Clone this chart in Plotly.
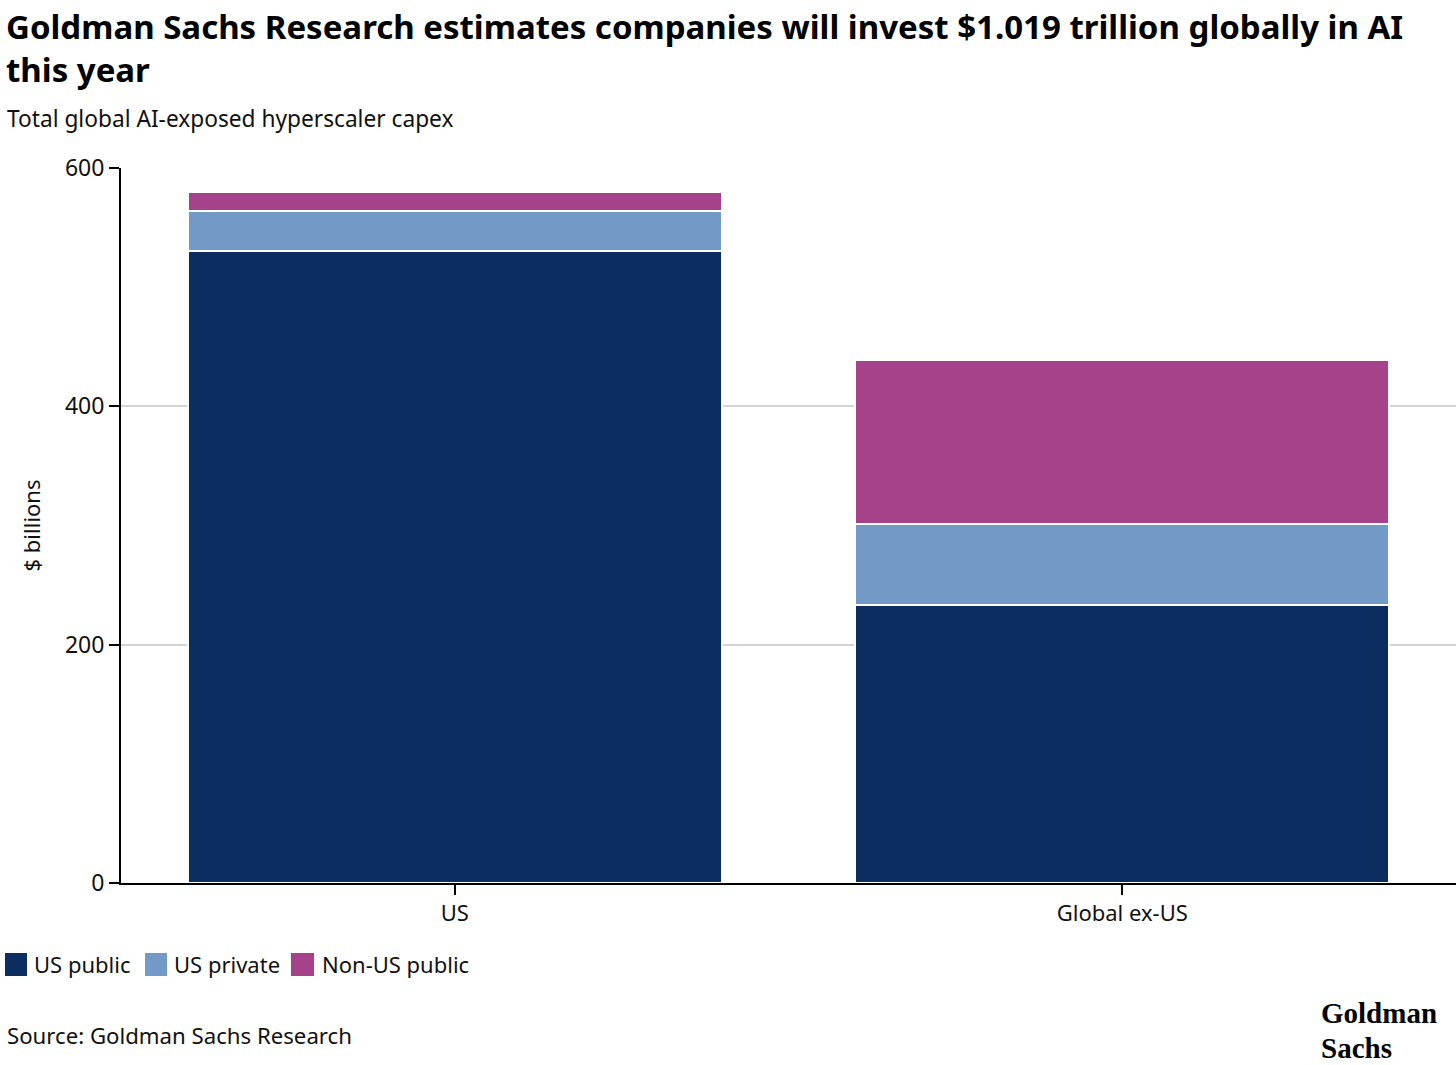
import plotly.graph_objects as go

categories = ["US", "Global ex-US"]
us_public = [530, 233]
us_private = [34, 68]
non_us_public = [16, 138]

series_names = ["US public", "US private", "Non-US public"]
colors = ["#0b2d5f", "#7399c6", "#a54289"]
y_ticks = [0, 200, 400, 600]

FONT = "Noto Sans"
TXT = "#111111"

fig = go.Figure()
for name, vals, col in zip(series_names, [us_public, us_private, non_us_public], colors):
    fig.add_trace(go.Bar(
        x=categories, y=vals, name=name, showlegend=False,
        marker=dict(color=col, line=dict(color="white", width=2)),
    ))

# custom legend (large square swatches, as in the reference)
legend_sq_x = [(-0.0869, -0.0704), (0.0180, 0.0345), (0.1273, 0.1446)]
legend_txt_x = [-0.0667, 0.0382, 0.1491]
shapes = []
annotations = []
for (x0, x1), tx, name, col in zip(legend_sq_x, legend_txt_x, series_names, colors):
    shapes.append(dict(type="rect", xref="paper", yref="paper", x0=x0, x1=x1,
                       y0=-0.1301, y1=-0.0979, fillcolor=col, line=dict(width=0)))
    annotations.append(dict(text=name, xref="paper", yref="paper", x=tx, y=-0.1133,
                            xanchor="left", yanchor="middle", showarrow=False,
                            font=dict(family=FONT, size=22, color=TXT)))

annotations += [
    dict(text="<b>Goldman Sachs Research estimates companies will invest $1.019 trillion globally in AI<br>this year</b>",
         xref="paper", yref="paper", x=-0.0875, y=1.2315, xanchor="left", yanchor="top",
         align="left", showarrow=False, font=dict(family=FONT, size=33, color="#000000")),
    dict(text="Total global AI-exposed hyperscaler capex", xref="paper", yref="paper",
         x=-0.0869, y=1.0699, xanchor="left", yanchor="middle", showarrow=False,
         font=dict(family=FONT, size=22.7, color=TXT)),
    dict(text="Source: Goldman Sachs Research", xref="paper", yref="paper",
         x=-0.0869, y=-0.2126, xanchor="left", yanchor="middle", showarrow=False,
         font=dict(family=FONT, size=22.2, color=TXT)),
    dict(text="<b>Goldman</b>", xref="paper", yref="paper",
         x=0.8974, y=-0.1818, xanchor="left", yanchor="middle", showarrow=False,
         font=dict(family="Liberation Serif", size=29, color="#000000")),
    dict(text="<b>Sachs</b>", xref="paper", yref="paper",
         x=0.8974, y=-0.2308, xanchor="left", yanchor="middle", showarrow=False,
         font=dict(family="Liberation Serif", size=29, color="#000000")),
]

fig.update_layout(
    barmode="stack",
    bargap=0.2,
    width=1456, height=1065,
    margin=dict(l=121, r=0, t=168, b=182),
    paper_bgcolor="white", plot_bgcolor="white",
    font=dict(family=FONT, size=22, color=TXT),
    showlegend=False,
    xaxis=dict(
        showline=True, linecolor="#000000", linewidth=2,
        ticks="outside", ticklen=10, tickwidth=2, tickcolor="#000000",
        tickfont=dict(family=FONT, size=22, color=TXT),
        showgrid=False,
    ),
    yaxis=dict(
        range=[0, 600],
        tickvals=y_ticks,
        showline=True, linecolor="#000000", linewidth=2,
        ticks="outside", ticklen=10, tickwidth=2, tickcolor="#000000",
        tickfont=dict(family=FONT, size=23, color=TXT),
        showgrid=True, gridcolor="#d4d4d4", gridwidth=2,
        zeroline=False,
        title=dict(text="$ billions", font=dict(family=FONT, size=22, color=TXT), standoff=18),
    ),
    shapes=shapes,
    annotations=annotations,
)

fig.write_html("out.html", config={"displayModeBar": False},
               post_script="document.body.style.margin='0';document.body.style.overflow='hidden';")
